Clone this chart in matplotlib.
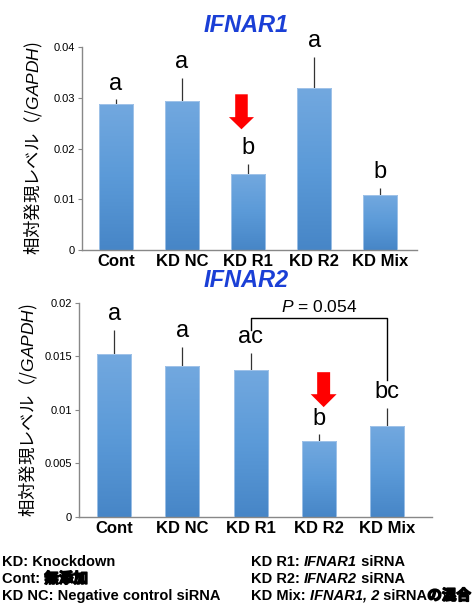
import numpy as np
import matplotlib
matplotlib.use('Agg')
import matplotlib.pyplot as plt
import matplotlib.patheffects as pe
from matplotlib.colors import LinearSegmentedColormap
from matplotlib.patches import FancyArrow

plt.rcParams['font.family'] = ['Liberation Sans', 'Noto Sans CJK JP', 'DejaVu Sans']
plt.rcParams['mathtext.fontset'] = 'custom'
plt.rcParams['mathtext.it'] = 'Liberation Sans:italic'
plt.rcParams['mathtext.rm'] = 'Liberation Sans'
plt.rcParams['mathtext.bf'] = 'Liberation Sans:bold'

# ---- data
groups = ['Cont', 'KD NC', 'KD R1', 'KD R2', 'KD Mix']

ifnar1_mean = [0.0287, 0.0294, 0.0149, 0.0319, 0.0108]
ifnar1_err = [0.0010, 0.0046, 0.0020, 0.0061, 0.0014]
ifnar1_letters = ['a', 'a', 'b', 'a', 'b']

ifnar2_mean = [0.0152, 0.0141, 0.0137, 0.0071, 0.0085]
ifnar2_err = [0.0023, 0.0018, 0.0016, 0.0006, 0.0017]
ifnar2_letters = ['a', 'a', 'ac', 'b', 'bc']

# bracket between KD R1 and KD Mix (IFNAR2)
bracket_groups = [2, 4]
bracket_y = [0.01745, 0.01857, 0.01278]   # left end, top, right end
bracket_label = '$P$ = 0.054'

# red arrows: (group index, x shift, top, tip)
arrow1 = (2, -0.10, 0.0307, 0.0238)
arrow2 = (3, 0.07, 0.01352, 0.01025)

ylabel = '相対発現レベル（/$\\mathit{GAPDH}$)'

bar_cmap = LinearSegmentedColormap.from_list('barg', ['#4786c7', '#5b9ad8', '#72a8df'])

fig = plt.figure(figsize=(4.74, 6.04), dpi=100)
ax1 = fig.add_axes([0.173, 0.586, 0.707, 0.336])
ax2 = fig.add_axes([0.1667, 0.1445, 0.745, 0.354])


def draw_panel(ax, means, errs, letters, ylim, yticks, yticklabels, xlim, width, lpad):
    x = np.arange(len(groups))
    bars = ax.bar(x, means, width=width, color='none', edgecolor='#a9c8ea',
                  linewidth=0.6, zorder=3)
    grad = np.linspace(0, 1, 100).reshape(-1, 1)
    for b in bars:
        x0 = b.get_x()
        h = b.get_height()
        im = ax.imshow(grad, extent=[x0, x0 + b.get_width(), 0, h], origin='lower',
                       cmap=bar_cmap, aspect='auto', zorder=2)
        im.set_clip_path(b)
    ax.errorbar(x, means, yerr=[np.zeros(len(errs)), errs], fmt='none',
                ecolor='#333333', elinewidth=0.9, capsize=0, zorder=1)
    for xi, m, e, t in zip(x, means, errs, letters):
        ax.annotate(t, (xi, m + e), xytext=(0, 3.5), textcoords='offset points',
                    ha='center', va='bottom', fontsize=17)
    ax.set_xlim(xlim)
    ax.set_ylim(ylim)
    ax.set_xticks(x)
    ax.set_xticklabels(groups, fontsize=12, fontweight='bold')
    ax.tick_params(axis='x', length=0, pad=3)
    ax.set_yticks(yticks)
    ax.set_yticklabels(yticklabels, fontsize=8)
    ax.tick_params(axis='y', length=3, width=0.8, color='#888888', pad=2)
    for s in ['top', 'right']:
        ax.spines[s].set_visible(False)
    for s in ['left', 'bottom']:
        ax.spines[s].set_color('#888888')
        ax.spines[s].set_linewidth(1.0)
    ax.set_ylabel(ylabel, family=['Noto Sans CJK JP'], fontsize=12.5, labelpad=lpad)


draw_panel(ax1, ifnar1_mean, ifnar1_err, ifnar1_letters, (0, 0.04),
           [0, 0.01, 0.02, 0.03, 0.04], ['0', '0.01', '0.02', '0.03', '0.04'],
           (-0.515, 4.56), 0.52, 6)
draw_panel(ax2, ifnar2_mean, ifnar2_err, ifnar2_letters, (0, 0.02),
           [0, 0.005, 0.01, 0.015, 0.02], ['0', '0.005', '0.01', '0.015', '0.02'],
           (-0.515, 4.66), 0.5, 3)

fig.text(0.52, 0.958, 'IFNAR1', color='#1a3fd6', fontsize=17, fontweight='bold',
         style='italic', ha='center', va='center')
fig.text(0.52, 0.535, 'IFNAR2', color='#1a3fd6', fontsize=17, fontweight='bold',
         style='italic', ha='center', va='center')

# bracket
bx0, bx1 = bracket_groups
ax2.plot([bx0, bx0, bx1, bx1], [bracket_y[0], bracket_y[1], bracket_y[1], bracket_y[2]],
         color='black', lw=1.0, clip_on=False)
ax2.annotate(bracket_label, ((bx0 + bx1) / 2, bracket_y[1]), xytext=(0, 2),
             textcoords='offset points', ha='center', va='bottom', fontsize=12.5)

# red arrows
for ax, (gi, dx, ytop, ytip), hl in [(ax1, arrow1, 0.0024), (ax2, arrow2, 0.00121)]:
    ax.add_patch(FancyArrow(gi + dx, ytop, 0, ytip - ytop, width=0.19, head_width=0.38,
                            head_length=hl, length_includes_head=True,
                            color='#ff0000', lw=0, zorder=5))

# footer legend, drawn piece by piece
fig.canvas.draw()
renderer = fig.canvas.get_renderer()
bold_cjk = [pe.withStroke(linewidth=1.1, foreground='black')]
styles = {
    'b': dict(family=['Liberation Sans'], fontweight='bold'),
    'bi': dict(family=['Liberation Sans'], fontweight='bold', style='italic'),
    'cjk': dict(family=['Noto Sans CJK JP'], fontweight='bold', path_effects=bold_cjk),
}


def line(x, y, pieces):
    for s, st in pieces:
        t = fig.text(x, y, s, fontsize=10.5, ha='left', va='baseline', **styles[st])
        bb = t.get_window_extent(renderer)
        x = bb.x1 / fig.bbox.width


line(2 / 474, 1 - 566 / 604, [('KD: Knockdown', 'b')])
line(2 / 474, 1 - 583 / 604, [('Cont: ', 'b'), ('無添加', 'cjk')])
line(2 / 474, 1 - 600 / 604, [('KD NC: Negative control siRNA', 'b')])
line(251 / 474, 1 - 566 / 604, [('KD R1: ', 'b'), ('IFNAR1', 'bi'), (' siRNA', 'b')])
line(251 / 474, 1 - 583 / 604, [('KD R2: ', 'b'), ('IFNAR2', 'bi'), (' siRNA', 'b')])
line(251 / 474, 1 - 600 / 604, [('KD Mix: ', 'b'), ('IFNAR1, 2', 'bi'), (' siRNA', 'b'),
                                ('の混合', 'cjk')])

fig.savefig('out.png', dpi=100)
